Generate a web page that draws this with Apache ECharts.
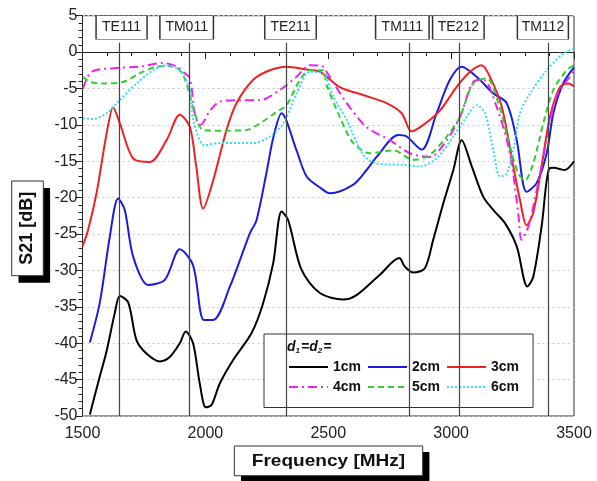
<!DOCTYPE html>
<html>
<head>
<meta charset="utf-8">
<script src="https://cdn.jsdelivr.net/npm/echarts@6/dist/echarts.min.js"></script>
<style>
html,body{margin:0;padding:0;background:#fff;}
#c{width:597px;height:481px;}
</style>
</head>
<body>
<div id="c"></div>
<script>
// ---- data ----
const seriesNames = ['1cm', '2cm', '3cm', '4cm', '5cm', '6cm'];
const d1cm = [[1530,-49.8],[1570,-44.6],[1598,-41.1],[1631,-35.9],[1652,-33.5],[1686,-34.4],[1720,-39.6],[1760,-41.4],[1815,-42.5],[1855,-41.9],[1896,-40.0],[1920,-38.4],[1950,-40.0],[1977,-45.5],[2002,-48.8],[2025,-48.5],[2059,-45.5],[2113,-42.3],[2188,-38.6],[2235,-34.5],[2276,-29.0],[2310,-21.9],[2337,-23.1],[2391,-29.9],[2466,-33.1],[2561,-34.0],[2615,-33.4],[2710,-30.6],[2789,-28.3],[2812,-29.5],[2846,-30.3],[2893,-29.7],[2927,-25.8],[2968,-20.8],[3009,-16.2],[3043,-12.1],[3084,-15.7],[3131,-19.9],[3172,-21.7],[3219,-23.5],[3267,-26.7],[3310,-32.2],[3334,-30.9],[3368,-24.0],[3399,-16.0],[3420,-15.9],[3445,-16.1],[3463,-16.2],[3500,-15.0]];
const d2cm = [[1530,-39.9],[1570,-34.5],[1611,-25.4],[1645,-20.1],[1672,-21.7],[1706,-28.1],[1767,-32.0],[1835,-31.3],[1896,-27.1],[1950,-29.3],[1994,-36.8],[2032,-36.8],[2100,-32.2],[2181,-24.9],[2208,-23.1],[2249,-16.5],[2276,-11.8],[2310,-8.4],[2371,-13.5],[2412,-17.1],[2466,-18.6],[2507,-19.4],[2602,-18.2],[2656,-16.2],[2697,-14.4],[2785,-11.4],[2819,-11.6],[2880,-13.4],[2941,-8.4],[2995,-3.8],[3043,-2.0],[3104,-3.4],[3172,-5.7],[3226,-7.0],[3267,-12.1],[3307,-19.2],[3348,-18.0],[3389,-13.9],[3416,-8.4],[3456,-4.3],[3500,-2.1]];
const d3cm = [[1500,-26.7],[1523,-24.4],[1557,-19.4],[1598,-11.2],[1625,-7.6],[1652,-9.8],[1706,-14.6],[1774,-15.1],[1842,-12.1],[1896,-8.6],[1937,-10.3],[1962,-15.5],[1991,-21.5],[2032,-17.6],[2086,-10.7],[2127,-7.0],[2195,-3.8],[2262,-2.5],[2330,-2.0],[2412,-2.4],[2466,-2.7],[2547,-4.8],[2642,-5.9],[2737,-7.0],[2799,-8.4],[2839,-10.9],[2887,-10.0],[2955,-8.0],[3022,-4.8],[3077,-2.7],[3124,-1.8],[3158,-3.4],[3206,-7.5],[3253,-15.7],[3280,-20.3],[3307,-23.8],[3334,-22.1],[3368,-15.7],[3402,-8.9],[3443,-4.8],[3477,-4.3],[3500,-4.7]];
const d4cm = [[1502,-5.0],[1537,-2.7],[1638,-2.2],[1733,-2.0],[1828,-1.5],[1883,-2.0],[1916,-2.9],[1937,-3.6],[1960,-9.0],[1980,-10.0],[2020,-8.0],[2059,-6.8],[2140,-6.6],[2222,-6.6],[2303,-5.2],[2371,-3.4],[2425,-1.8],[2479,-2.0],[2493,-2.7],[2575,-7.0],[2656,-10.3],[2751,-12.1],[2832,-13.9],[2914,-14.4],[2982,-12.1],[3036,-8.9],[3090,-4.1],[3131,-3.8],[3185,-7.5],[3239,-13.9],[3273,-22.1],[3287,-25.8],[3314,-24.0],[3348,-19.0],[3389,-12.1],[3429,-6.1],[3500,-2.7]];
const d5cm = [[1502,-3.4],[1530,-4.1],[1584,-4.3],[1665,-4.1],[1733,-2.9],[1801,-2.0],[1855,-1.9],[1896,-2.5],[1923,-4.3],[1957,-8.4],[1991,-10.7],[2072,-10.8],[2168,-10.7],[2222,-9.8],[2290,-8.2],[2330,-7.3],[2385,-3.8],[2425,-2.5],[2479,-2.5],[2493,-4.5],[2547,-8.9],[2602,-12.5],[2670,-13.9],[2765,-13.5],[2846,-14.8],[2914,-14.1],[2982,-11.6],[3036,-8.9],[3090,-4.3],[3145,-3.6],[3192,-7.0],[3233,-12.1],[3273,-16.7],[3300,-17.6],[3334,-15.3],[3375,-9.8],[3416,-5.2],[3470,-2.5],[3500,-1.8]];
const d6cm = [[1502,-9.1],[1543,-9.2],[1598,-8.4],[1652,-6.6],[1720,-4.3],[1787,-2.5],[1842,-1.8],[1896,-2.5],[1937,-5.2],[1950,-9.3],[1998,-12.8],[2059,-12.5],[2195,-12.5],[2262,-11.6],[2317,-9.8],[2371,-5.7],[2425,-2.7],[2479,-2.9],[2520,-6.1],[2575,-9.3],[2642,-14.1],[2697,-15.3],[2805,-15.5],[2873,-15.7],[2941,-14.6],[3009,-11.6],[3063,-8.9],[3104,-7.3],[3138,-8.4],[3172,-13.5],[3199,-17.1],[3226,-16.7],[3253,-13.5],[3280,-8.4],[3321,-5.7],[3389,-2.5],[3456,-0.2],[3500,0.5]];
const modeNames = ['TE111', 'TM011', 'TE211', 'TM111', 'TE212', 'TM112'];
const modeFreqs = [1648, 1934, 2328, 2830, 3035, 3395];
const xTicks = [1500, 3500, 500];
const yTicks = [-50, 5, 5];

// ---- styles ----
const FONT = 'Liberation Sans, Arial, sans-serif';
const colors = ['#000000', '#1c1ce0', '#ee2222', '#ee22ee', '#33cc33', '#33ddee'];
const dashes = ['solid', 'solid', 'solid', [9, 4, 2, 4], [6, 4], [2, 2]];
const boxShift = [2.7, -2.5, 4.5, -7, -1.4, -5.3];
const boxWidth = [51, 53.5, 51.5, 53.5, 51.5, 51];
const allData = [d1cm, d2cm, d3cm, d4cm, d5cm, d6cm];

const series = seriesNames.map((n, i) => ({
  name: n, type: 'line', data: allData[i], showSymbol: false, symbol: 'none',
  smooth: 0.3, z: 3,
  lineStyle: { color: colors[i], width: 2, type: dashes[i] },
  itemStyle: { color: colors[i] }
}));

series.push({
  name: 'modes', type: 'line', data: [], z: 2,
  markLine: {
    silent: true, symbol: ['none', 'arrow'], symbolSize: [0, 8],
    lineStyle: { color: '#444', width: 1.2, type: 'solid' },
    label: { show: false },
    data: modeFreqs.map(f => [{ coord: [f, -50] }, { coord: [f, 1.3] }])
  },
  markPoint: {
    silent: true, symbol: 'rect',
    itemStyle: { color: '#fff', borderColor: '#333', borderWidth: 1 },
    label: { show: true, position: 'inside', color: '#222', fontSize: 14, fontFamily: FONT },
    data: modeNames.map((m, i) => ({
      coord: [modeFreqs[i], 3.38], symbolSize: [boxWidth[i], 23.5], symbolOffset: [boxShift[i], 0],
      label: { formatter: m }
    }))
  }
});

const chart = echarts.init(document.getElementById('c'), null, { renderer: 'canvas' });
chart.setOption({
  animation: false,
  backgroundColor: '#fff',
  grid: { left: 82.5, right: 23, top: 15.7, bottom: 65, show: true, borderColor: '#333', borderWidth: 1, backgroundColor: 'transparent' },
  xAxis: {
    type: 'value', min: xTicks[0], max: xTicks[1], interval: xTicks[2],
    axisLine: { lineStyle: { color: '#222', width: 1 } },
    axisTick: { show: true, length: 7, lineStyle: { color: '#222' } },
    minorTick: { show: true, splitNumber: 5, length: 4, lineStyle: { color: '#222' } },
    splitLine: { show: false },
    axisLabel: { fontSize: 16, color: '#222', margin: 10, fontFamily: FONT, formatter: v => String(v) }
  },
  yAxis: {
    type: 'value', min: yTicks[0], max: yTicks[1], interval: yTicks[2],
    axisLine: { show: true, lineStyle: { color: '#222', width: 1 } },
    axisTick: { show: true, length: 7, lineStyle: { color: '#222' } },
    minorTick: { show: true, splitNumber: 5, length: 4, lineStyle: { color: '#222' } },
    splitLine: { show: true, lineStyle: { color: '#c8c8c8', type: [2, 3], width: 1 } },
    axisLabel: { fontSize: 16, color: '#222', margin: 5, fontFamily: FONT, formatter: v => String(v) }
  },
  legend: {
    data: seriesNames, left: 264, top: 334, width: 300,
    padding: [26, 14, 13.5, 24],
    backgroundColor: '#fff', borderColor: '#333', borderWidth: 1,
    itemWidth: 39, itemHeight: 14, itemGap: 6,
    itemStyle: { color: 'transparent', borderColor: 'transparent', borderWidth: 0 },
    textStyle: { fontSize: 14, fontWeight: 'bold', color: '#111', width: 38, fontFamily: FONT },
    selectedMode: false
  },
  graphic: [
    { type: 'rect', shape: { x: 18.5, y: 188, width: 31.6, height: 94.7 }, style: { fill: '#000' }, z: 10 },
    { type: 'rect', shape: { x: 11.7, y: 181, width: 31.6, height: 94.7 }, style: { fill: '#fff', stroke: '#333', lineWidth: 1 }, z: 11 },
    { type: 'text', x: 27.5, y: 228.3, rotation: Math.PI / 2, z: 12,
      style: { text: 'S21 [dB]', fontSize: 18, fontWeight: 'bold', fontFamily: FONT, fill: '#111', align: 'center', verticalAlign: 'middle' } },
    { type: 'rect', shape: { x: 241, y: 452, width: 188.4, height: 29.7 }, style: { fill: '#000' }, z: 10 },
    { type: 'rect', shape: { x: 234.3, y: 446, width: 188.4, height: 29.7 }, style: { fill: '#fff', stroke: '#333', lineWidth: 1 }, z: 11 },
    { type: 'text', x: 328.5, y: 461, scaleX: 1.12, z: 12,
      style: { text: 'Frequency [MHz]', fontSize: 17, fontWeight: 'bold', fontFamily: FONT, fill: '#111', align: 'center', verticalAlign: 'middle' } },
    { type: 'text', x: 287, y: 347, z: 20,
      style: { text: '{a|d}{s|1}{a|=d}{s|2}{a|=}', fontFamily: FONT, fill: '#111', verticalAlign: 'middle',
        rich: { a: { fontSize: 14, fontWeight: 'bold', fontStyle: 'italic', fontFamily: FONT },
                s: { fontSize: 8, fontWeight: 'bold', fontStyle: 'italic', fontFamily: FONT, padding: [8, 1, 0, 0] } } } }
  ],
  series: series
});
</script>
</body>
</html>
